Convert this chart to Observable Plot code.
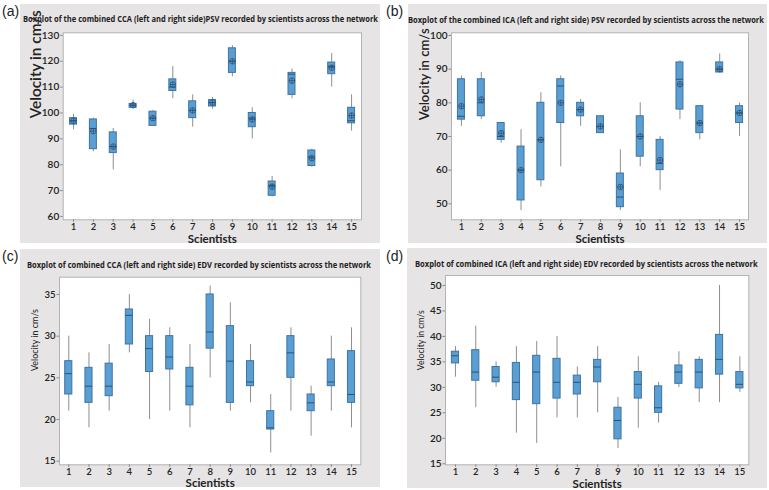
<!DOCTYPE html>
<html><head><meta charset="utf-8">
<script src="https://cdn.jsdelivr.net/npm/d3@7"></script>
<script src="https://cdn.jsdelivr.net/npm/@observablehq/plot@0.6"></script>
<style>
body{margin:0;background:#fff;}
#root{position:relative;width:769px;height:490px;overflow:hidden;font-family:Lato,sans-serif;}
.panel{position:absolute;background:#e6e4e4;}
.panel svg{position:absolute;left:0;top:0;background:none;overflow:visible;}
.letter{position:absolute;font-family:"Liberation Sans",Arial,sans-serif;font-size:14px;color:#222;line-height:1;}
.title{position:absolute;white-space:nowrap;font-weight:700;font-size:8.5px;color:#222;transform-origin:0 50%;line-height:1;font-family:"Open Sans",sans-serif;}
</style></head><body><div id="root"></div>
<script>
const scientists = [1,2,3,4,5,6,7,8,9,10,11,12,13,14,15];

// (a) combined CCA PSV
const aMin  = [93.5, 85, 78, 102, 95, 105.5, 94.5, 101.5, 114, 90, 67.5, 105.5, 79, 110, 93];
const aQ1   = [95.5, 86, 84.5, 102, 95, 108.5, 98, 102.5, 115.5, 94.5, 68, 107, 79.5, 115, 96];
const aMed  = [97, 94, 87, 103, 98, 110, 101, 104, 120, 98, 72, 115, 83, 118, 97];
const aQ3   = [98, 97.5, 92.5, 103.5, 100.5, 113, 104.5, 105, 125, 100, 73.5, 115.5, 85.5, 119.5, 102];
const aMax  = [99.5, 98, 94, 105, 101, 118, 107, 106, 126, 102, 75.5, 117, 86, 123, 107];
const aMean = [97, 93, 87, 103, 98, 111, 101, 104, 120, 97.5, 71.5, 112.5, 82.5, 117.5, 99];

// (b) combined ICA PSV
const bMin  = [73, 75, 68, 48, 55, 61, 73, 71, 48, 61, 54, 75, 69, 89, 70];
const bQ1   = [75, 76, 69, 51, 57, 74, 76, 71, 49, 64, 60, 78, 71, 89, 74];
const bMed  = [76, 80, 70, 60, 69, 85, 78, 73, 52, 70, 62, 87, 74, 90, 77];
const bQ3   = [87, 87, 74, 67, 80, 87, 80, 76, 59, 76, 69, 92, 79, 92, 79];
const bMax  = [88, 89, 74, 72, 83, 88, 81, 76, 66, 80, 70, 92.5, 79, 94.5, 80];
const bMean = [79, 81, 71, 60, 69, 80, 78, 73, 55, 70, 63, 85.5, 74, 90, 77];

// (c) combined CCA EDV
const cMin  = [21, 19, 21, 28, 20, 21, 19, 25, 21, 22, 16, 21, 18, 21, 19];
const cQ1   = [23, 22, 22.8, 29, 25.7, 26, 21.7, 28.5, 22, 24, 18.8, 25, 21, 24, 22];
const cMed  = [25.5, 24, 24, 32.5, 28.5, 27.5, 24, 30.5, 27, 24.5, 19, 28, 22, 24.5, 23];
const cQ3   = [27, 26.2, 26.7, 33.2, 30, 30, 26.2, 35, 31.2, 27, 21, 30, 23, 27.2, 28.2];
const cMax  = [30, 28, 29, 35, 32, 31, 29, 36, 34, 29, 23, 31, 24, 30, 31];

// (d) combined ICA EDV
const dMin  = [32, 26, 30, 21, 19, 24, 24, 25, 18, 22, 23, 30, 27, 27, 29];
const dQ1   = [34.7, 31.3, 31, 27.5, 26.7, 27.8, 28.6, 31, 19.8, 27.8, 25, 30.7, 29.8, 32.5, 29.8];
const dMed  = [36.2, 33, 32, 31, 33, 31, 31, 34, 23.5, 30.6, 26, 33, 33, 35.5, 30.6];
const dQ3   = [37, 37.3, 34, 34.8, 36.2, 35.6, 32.3, 35.4, 26, 33, 30.2, 34.3, 35.4, 40.3, 33];
const dMax  = [38, 42, 35, 38, 39, 40, 34, 38, 28, 36, 31, 37, 36, 50, 36];

const titles = [
  "Boxplot of the combined CCA (left and right side)PSV recorded by scientists across the network",
  "Boxplot of the combined ICA (left and right side) PSV recorded by scientists across the network",
  "Boxplot of combined CCA (left and right side) EDV recorded by scientists across the network",
  "Boxplot of combined ICA (left and right side) EDV recorded by scientists across the network"
];
const letters = ["(a)", "(b)", "(c)", "(d)"];
const yLabel = "Velocity in cm/s";
const xLabel = "Scientists";
const aTicks = [60,70,80,90,100,110,120,130];
const bTicks = [50,60,70,80,90,100];
const cTicks = [15,20,25,30,35];
const dTicks = [15,20,25,30,35,40,45,50];

function rowsOf(mn, q1, md, q3, mx, mean) {
  return scientists.map((s, i) => ({sci: s, lo: mn[i], q1: q1[i], med: md[i], q3: q3[i], hi: mx[i], mean: mean ? mean[i] : null}));
}

const circlePlus = {
  draw(ctx, size) {
    const r = Math.sqrt(size / Math.PI);
    ctx.moveTo(r, 0); ctx.arc(0, 0, r, 0, 2 * Math.PI);
    ctx.moveTo(-r, 0); ctx.lineTo(r, 0);
    ctx.moveTo(0, -r); ctx.lineTo(0, r);
  }
};

const panels = [
  {rows: rowsOf(aMin,aQ1,aMed,aQ3,aMax,aMean), ticks: aTicks, means: true,
   box:[20,4,360,239], m:[28.3,19,23.7,42.7], xd:[0.48,15.5], yd:[58.7,131],
   title:[22.7,19.3,355], letter:[2,4], ylab:{dx:-26.7, dy:-8, fs:12, fw:600, len:108}, xlab:{dy:19.5, fs:11.5, fw:700}, tfs:10, xfs:9.5, tfw:600},
  {rows: rowsOf(bMin,bQ1,bMed,bQ3,bMax,bMean), ticks: bTicks, means: true,
   box:[408,4,359,239], m:[28.3,19,23.7,43], xd:[0.5,15.45], yd:[45.25,100.8],
   title:[408,20,356], letter:[386,4], ylab:{dx:-27, dy:-6, fs:11.5, fw:600, len:92}, xlab:{dy:19.5, fs:11.5, fw:700}, tfs:10, xfs:9.5, tfw:600},
  {rows: rowsOf(cMin,cQ1,cMed,cQ3,cMax,null), ticks: cTicks, means: false,
   box:[20,249,360,238], m:[27.7,19.7,22.7,39], xd:[0.54,15.46], yd:[14.57,37.07],
   title:[26.7,265,344], letter:[2,249], ylab:{dx:-24, dy:0, fs:9, fw:400, len:62}, xlab:{dy:19, fs:11.5, fw:700}, tfs:9.5, xfs:9.5, tfw:600},
  {rows: rowsOf(dMin,dQ1,dMed,dQ3,dMax,null), ticks: dTicks, means: false,
   box:[407,248,360,240], m:[27,18.7,23.7,38], xd:[0.51,15.44], yd:[14.8,51.96],
   title:[414.7,264,342.6], letter:[386,249], ylab:{dx:-24, dy:0, fs:9, fw:400, len:60}, xlab:{dy:19.5, fs:11.5, fw:700}, tfs:10, xfs:9.5, tfw:600}
];

const root = document.getElementById("root");
const hw = 0.176;

panels.forEach((p, k) => {
  const div = document.createElement("div");
  div.className = "panel";
  div.style.left = p.box[0] + "px"; div.style.top = p.box[1] + "px";
  div.style.width = p.box[2] + "px"; div.style.height = p.box[3] + "px";
  root.appendChild(div);

  const marks = [
    Plot.frame({fill: "white", stroke: "#b3b3b3"}),
    Plot.ruleX(p.rows, {x: "sci", y1: "lo", y2: "hi", stroke: "#8e8e8e", strokeWidth: 1}),
    Plot.rect(p.rows, {x1: d => d.sci - hw, x2: d => d.sci + hw, y1: "q1", y2: "q3", fill: "#5a9fd4", stroke: "#3f73a0", strokeWidth: 1}),
    Plot.ruleY(p.rows, {y: "med", x1: d => d.sci - hw, x2: d => d.sci + hw, stroke: "#2a5276", strokeWidth: 1})
  ];
  if (p.means) marks.push(Plot.dot(p.rows, {x: "sci", y: "mean", r: 2.8, symbol: circlePlus, fill: "none", stroke: "#2a5276", strokeWidth: 0.8}));
  marks.push(
    Plot.axisX(scientists, {tickSize: 2.5, tickPadding: 1, fontSize: p.xfs, fontWeight: p.tfw, label: null, stroke: "#888", fill: "#222"}),
    Plot.axisY(p.ticks, {tickSize: 2.5, tickPadding: 1.5, fontSize: p.tfs, fontWeight: p.tfw, label: null, stroke: "#888", fill: "#222"}),
    Plot.text([xLabel], {text: d => d, frameAnchor: "bottom", lineAnchor: "middle", dy: p.xlab.dy, fontSize: p.xlab.fs, fontWeight: p.xlab.fw, fill: "#222"}),
    Plot.text([yLabel], {text: d => d, frameAnchor: "left", lineAnchor: "middle", dx: p.ylab.dx, dy: p.ylab.dy, rotate: -90, fontSize: p.ylab.fs, fontWeight: p.ylab.fw, fill: "#222"})
  );

  const svg = Plot.plot({
    width: p.box[2], height: p.box[3],
    marginTop: p.m[0], marginRight: p.m[1], marginBottom: p.m[2], marginLeft: p.m[3],
    x: {type: "linear", domain: p.xd},
    y: {type: "linear", domain: p.yd},
    style: {background: "none", fontFamily: "Lato, sans-serif", color: "#222"},
    marks
  });
  div.appendChild(svg);
  svg.querySelectorAll("text").forEach(t => {
    if (t.textContent === yLabel) {
      const w0 = t.getComputedTextLength();
      if (w0 > 0) t.style.fontSize = (p.ylab.fs * p.ylab.len / w0) + "px";
    }
  });

  const lt = document.createElement("div");
  lt.className = "letter"; lt.textContent = letters[k];
  lt.style.left = p.letter[0] + "px"; lt.style.top = p.letter[1] + "px";
  root.appendChild(lt);

  const tt = document.createElement("div");
  tt.className = "title"; tt.textContent = titles[k];
  root.appendChild(tt);
  const fs = 8.5;
  tt.style.left = p.title[0] + "px"; tt.style.top = (p.title[1] - fs / 2) + "px";
  const w = tt.getBoundingClientRect().width;
  tt.style.transform = `scaleX(${p.title[2] / w})`;
});
</script></body></html>
